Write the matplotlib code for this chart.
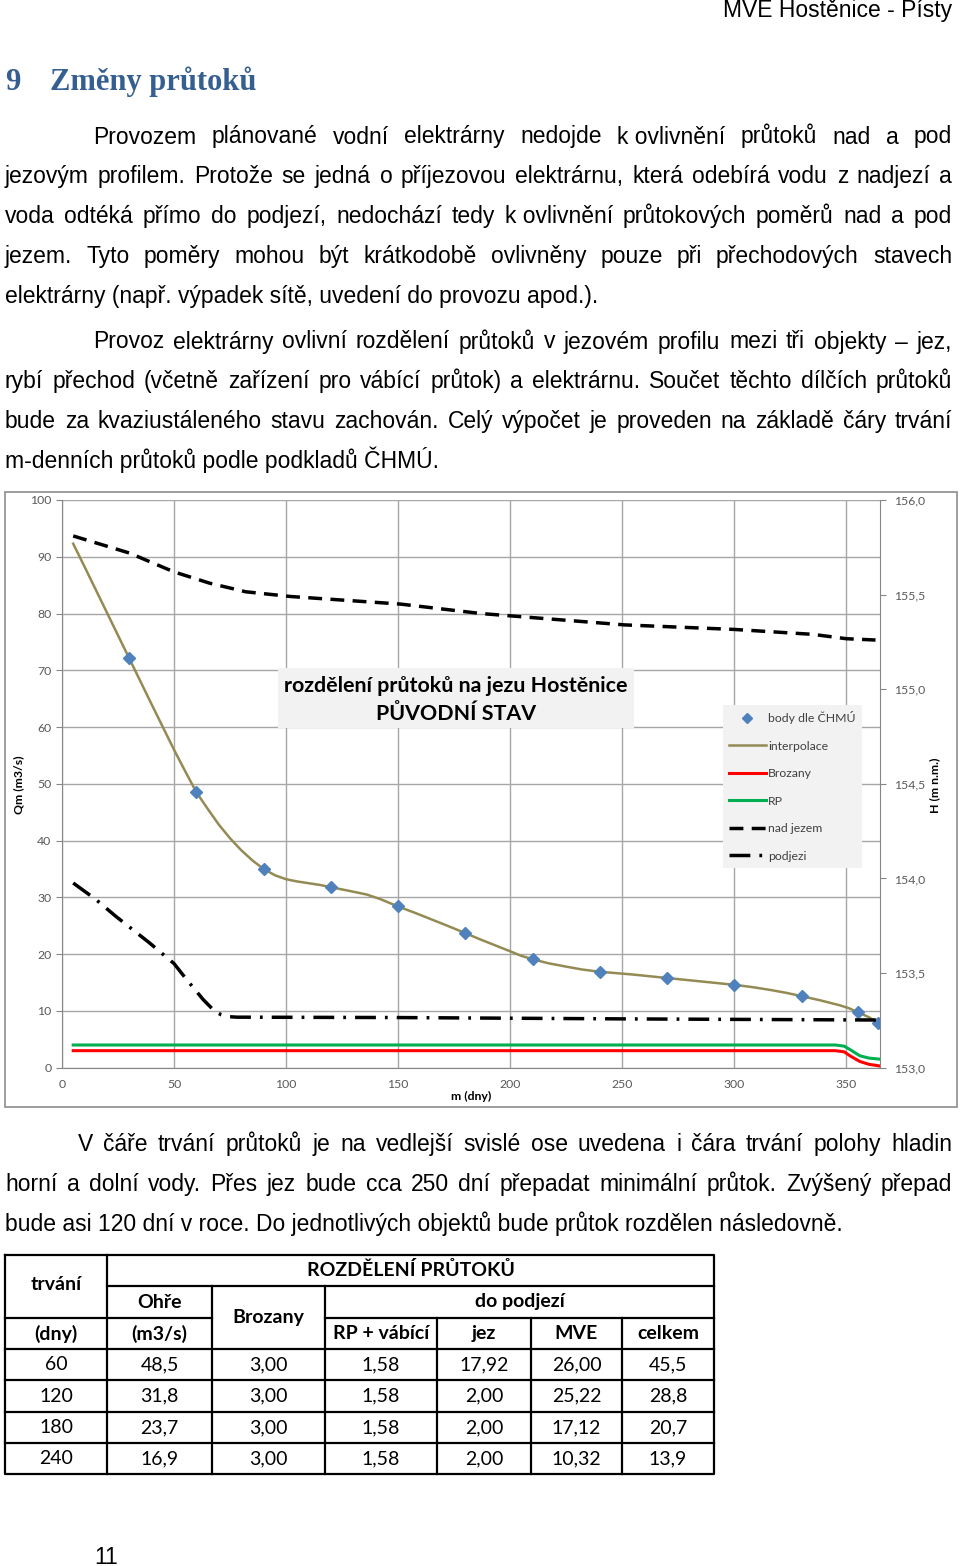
import matplotlib
matplotlib.use('Agg')
import matplotlib.pyplot as plt
from matplotlib.lines import Line2D
from matplotlib.patches import Rectangle
from matplotlib.ticker import FuncFormatter, MultipleLocator

# body dle CHMU (m-denni prutoky)
chmu_days = [30, 60, 90, 120, 150, 180, 210, 240, 270, 300, 330, 355, 364]
chmu_q = [72.1, 48.5, 35.0, 31.8, 28.4, 23.7, 19.1, 16.9, 15.8, 14.6, 12.6, 9.8, 7.9]

# interpolace
interp_days = [5, 10, 20, 30, 40, 50, 55, 60, 65, 70, 75, 80, 85, 90, 95, 100, 105, 110,
               115, 120, 130, 136, 142, 150, 158, 165, 172, 180, 186, 193, 200, 205, 210,
               217, 225, 232, 240, 255, 270, 285, 300, 308, 316, 323, 330, 338, 347, 351,
               355, 360, 364]
interp_q = [92.3, 88.3, 80.2, 72.1, 64.0, 56.0, 52.2, 48.5, 45.6, 42.8, 40.4, 38.3, 36.5,
            35.0, 33.9, 33.2, 32.8, 32.5, 32.2, 31.8, 31.0, 30.5, 29.7, 28.4, 27.2, 26.1,
            25.0, 23.7, 22.7, 21.6, 20.5, 19.7, 19.1, 18.4, 17.8, 17.3, 16.9, 16.4, 15.8,
            15.2, 14.6, 14.2, 13.7, 13.2, 12.6, 11.9, 11.0, 10.5, 9.8, 8.9, 7.9]

# Brozany and RP
min_days = [5, 345, 349, 352, 356, 360, 365]
brozany_q = [3.0, 3.0, 2.8, 2.0, 1.1, 0.6, 0.3]
rp_q = [4.0, 4.0, 3.8, 3.1, 2.1, 1.7, 1.5]

# water levels (right axis)
nad_days = [5, 30, 50, 66, 82, 102, 151, 187, 202, 251, 300, 335, 350, 363]
nad_h = [155.81, 155.72, 155.62, 155.56, 155.515, 155.49, 155.45, 155.40, 155.386,
         155.34, 155.316, 155.29, 155.267, 155.26]
pod_days = [5, 15, 24, 39, 50, 56, 63, 68, 71, 74, 78, 150, 250, 364]
pod_h = [153.976, 153.89, 153.80, 153.66, 153.55, 153.46, 153.36, 153.30, 153.28,
         153.27, 153.267, 153.265, 153.258, 153.252]

# table
tab_days = ['60', '120', '180', '240']
tab_ohre = ['48,5', '31,8', '23,7', '16,9']
tab_brozany = ['3,00', '3,00', '3,00', '3,00']
tab_rp = ['1,58', '1,58', '1,58', '1,58']
tab_jez = ['17,92', '2,00', '2,00', '2,00']
tab_mve = ['26,00', '25,22', '17,12', '10,32']
tab_celkem = ['45,5', '28,8', '20,7', '13,9']

par1 = ['Provozem plánované vodní elektrárny nedojde k\u00a0ovlivnění průtoků nad a pod',
        'jezovým profilem. Protože se jedná o příjezovou elektrárnu, která odebírá vodu z nadjezí a',
        'voda odtéká přímo do podjezí, nedochází tedy k\u00a0ovlivnění průtokových poměrů nad a pod',
        'jezem. Tyto poměry mohou být krátkodobě ovlivněny pouze při přechodových stavech',
        'elektrárny (např. výpadek sítě, uvedení do provozu apod.).']
par2 = ['Provoz elektrárny ovlivní rozdělení průtoků v jezovém profilu mezi tři objekty – jez,',
        'rybí přechod (včetně zařízení pro vábící průtok) a elektrárnu. Součet těchto dílčích průtoků',
        'bude za kvaziustáleného stavu zachován. Celý výpočet je proveden na základě čáry trvání',
        'm-denních průtoků podle podkladů ČHMÚ.']
par3 = ['V čáře trvání průtoků je na vedlejší svislé ose uvedena i čára trvání polohy hladin',
        'horní a dolní vody. Přes jez bude cca 250 dní přepadat minimální průtok. Zvýšený přepad',
        'bude asi 120 dní v roce. Do jednotlivých objektů bude průtok rozdělen následovně.']

W, H = 960, 1566
fig = plt.figure(figsize=(W / 100, H / 100), dpi=100)
chart_font = ['Lato', 'DejaVu Sans']
body_font = ['Liberation Sans', 'DejaVu Sans']

# ---- chart ----
x0, x1, ytop, ybot = 62, 880, 500, 1067.7
ax = fig.add_axes([x0 / W, 1 - ybot / H, (x1 - x0) / W, (ybot - ytop) / H], zorder=1)
ax.set_xlim(0, 365)
ax.set_ylim(0, 100)
ax.xaxis.set_major_locator(MultipleLocator(50))
ax.yaxis.set_major_locator(MultipleLocator(10))
ax.grid(True, color='#a6a6a6', lw=1)
ax.set_axisbelow(True)
for s in ['top', 'right']:
    ax.spines[s].set_visible(False)
for s in ['left', 'bottom']:
    ax.spines[s].set_color('#868686')
ax.tick_params(axis='y', colors='#868686', length=4, labelcolor='#595959', labelsize=8.8)
ax.tick_params(axis='x', length=0, labelcolor='#595959', labelsize=8.8, pad=8)
for lab in ax.get_xticklabels() + ax.get_yticklabels():
    lab.set_family(chart_font)

ax.plot(interp_days, interp_q, color='#948A54', lw=1.8, zorder=3)
ax.plot(chmu_days, chmu_q, 'D', color='#4F81BD', ms=6.5, zorder=4)
ax.plot(min_days, brozany_q, color='#FF0000', lw=2.2, zorder=3)
ax.plot(min_days, rp_q, color='#00B050', lw=2.2, zorder=3)

ax2 = ax.twinx()
ax2.set_zorder(2)
ax2.set_ylim(153, 156)
ax2.yaxis.set_major_locator(MultipleLocator(0.5))
ax2.yaxis.set_major_formatter(FuncFormatter(lambda v, p: f'{v:.1f}'.replace('.', ',')))
for s in ['top', 'left', 'bottom']:
    ax2.spines[s].set_visible(False)
ax2.spines['right'].set_color('#868686')
ax2.tick_params(axis='y', colors='#868686', length=4, labelcolor='#595959', labelsize=8.8, pad=6)
for lab in ax2.get_yticklabels():
    lab.set_family(chart_font)
ax2.plot(nad_days, nad_h, color='black', lw=2.5, ls=(0, (4, 2.4)))
ax2.plot(pod_days, pod_h, color='black', lw=2.5, ls=(0, (6, 2.6, 0.8, 2.6)))

ax.set_ylabel('Qm (m3/s)', fontsize=8.8, fontweight='bold', family=chart_font)
ax.yaxis.set_label_coords((24 - x0) / (x1 - x0), 0.498)
ax2.set_ylabel('H (m n.m.)', fontsize=8.8, fontweight='bold', family=chart_font)
ax2.yaxis.set_label_coords((929 - x0) / (x1 - x0), 0.498)
ax.set_xlabel('m (dny)', fontsize=8.8, fontweight='bold', family=chart_font)
ax.xaxis.set_label_coords((471 - x0) / (x1 - x0), -(1091 - ybot) / (ybot - ytop))

handles = [
    Line2D([], [], ls='none', marker='D', color='#4F81BD', ms=5),
    Line2D([], [], color='#948A54', lw=1.8),
    Line2D([], [], color='#FF0000', lw=2.2),
    Line2D([], [], color='#00B050', lw=2.2),
    Line2D([], [], color='black', lw=2.5, ls=(0, (4, 2.4))),
    Line2D([], [], color='black', lw=2.5, ls=(0, (6, 2.6, 0.8, 2.6))),
]
labels = ['body dle ČHMÚ', 'interpolace', 'Brozany', 'RP', 'nad jezem', 'podjezi']
leg = ax2.legend(handles, labels, loc='upper left',
                 bbox_to_anchor=(723 / W, 1 - 705 / H), bbox_transform=fig.transFigure,
                 prop={'family': chart_font, 'size': 8.8}, frameon=True, fancybox=False,
                 facecolor='#f2f2f2', edgecolor='none', framealpha=1,
                 labelspacing=1.35, handlelength=3.0, handletextpad=0.2, borderpad=0.5,
                 borderaxespad=0)
for t in leg.get_texts():
    t.set_color('#404040')

# ---- page overlay ----
pg = fig.add_axes([0, 0, 1, 1], zorder=5)
pg.set_xlim(0, W)
pg.set_ylim(H, 0)
pg.axis('off')
pg.patch.set_alpha(0)
renderer = fig.canvas.get_renderer()

pg.add_patch(Rectangle((5, 492), 952, 615, fill=False, ec='#8c8c8c', lw=1.2))
pg.add_patch(Rectangle((278, 668), 356, 60, fc='#f2f2f2', ec='none'))
pg.text(456, 686, 'rozdělení průtoků na jezu Hostěnice', ha='center', va='center',
        fontsize=15.4, fontweight='bold', family=chart_font, color='black')
pg.text(456, 714, 'PŮVODNÍ STAV', ha='center', va='center',
        fontsize=15.4, fontweight='bold', family=chart_font, color='black')

body_kw = dict(fontsize=16.5, family=body_font, color='black')


def put_line(text, xa, xb, y, justify=True):
    if not justify:
        pg.text(xa, y, text, ha='left', va='baseline', **body_kw)
        return
    tokens = text.split(' ')
    widths = []
    for t in tokens:
        tt = pg.text(0, 0, t, **body_kw)
        widths.append(tt.get_window_extent(renderer).width)
        tt.remove()
    gap = (xb - xa - sum(widths)) / (len(tokens) - 1)
    x = xa
    for t, w in zip(tokens, widths):
        pg.text(x, y, t, ha='left', va='baseline', **body_kw)
        x += w + gap


def put_par(lines, indent, y0, step=39.8):
    for i, line in enumerate(lines):
        xa = indent if i == 0 else 5
        put_line(line, xa, 952, y0 + i * step, justify=(i < len(lines) - 1))


put_par(par1, 93, 143.5)
put_par(par2, 93, 348.5)
put_par(par3, 78, 1151)

pg.text(952, 17, 'MVE Hostěnice - Písty', ha='right', va='baseline', fontsize=16.5,
        family=body_font, color='black')
pg.text(5, 90, '9', ha='left', va='baseline', fontsize=22, fontweight='bold',
        family=['Liberation Serif', 'DejaVu Serif'], color='#365F91')
pg.text(50, 90, 'Změny průtoků', ha='left', va='baseline', fontsize=22, fontweight='bold',
        family=['Liberation Serif', 'DejaVu Serif'], color='#365F91')
pg.text(94, 1564, '11', ha='left', va='baseline', fontsize=16.5, family=body_font, color='black')

# ---- table ----
cx = [5, 107, 212, 325, 437, 531, 622, 714]
ry = [1255, 1286, 1318, 1349, 1380, 1412, 1443, 1474]
tl = dict(color='black', lw=1.6)
pg.plot([cx[0], cx[-1], cx[-1], cx[0], cx[0]], [ry[0], ry[0], ry[-1], ry[-1], ry[0]], **tl)
pg.plot([cx[1], cx[-1]], [ry[1], ry[1]], **tl)
pg.plot([cx[0], cx[2]], [ry[2], ry[2]], **tl)
pg.plot([cx[3], cx[-1]], [ry[2], ry[2]], **tl)
for r in ry[3:-1]:
    pg.plot([cx[0], cx[-1]], [r, r], **tl)
pg.plot([cx[1], cx[1]], [ry[0], ry[-1]], **tl)
pg.plot([cx[2], cx[2]], [ry[1], ry[-1]], **tl)
pg.plot([cx[3], cx[3]], [ry[1], ry[-1]], **tl)
for c in cx[4:-1]:
    pg.plot([c, c], [ry[2], ry[-1]], **tl)

hk = dict(ha='center', va='center', fontsize=14, fontweight='bold', family=chart_font)
dk = dict(ha='center', va='center', fontsize=14, family=chart_font)


def mid(a, b):
    return (a + b) / 2


pg.text(mid(cx[0], cx[1]), 1285, 'trvání', **hk)
pg.text(mid(cx[0], cx[1]), mid(ry[2], ry[3]), '(dny)', **hk)
pg.text(mid(cx[1], cx[-1]), mid(ry[0], ry[1]), 'ROZDĚLENÍ PRŮTOKŮ', **hk)
pg.text(mid(cx[1], cx[2]), mid(ry[1], ry[2]), 'Ohře', **hk)
pg.text(mid(cx[1], cx[2]), mid(ry[2], ry[3]), '(m3/s)', **hk)
pg.text(mid(cx[2], cx[3]), mid(ry[1], ry[3]), 'Brozany', **hk)
pg.text(mid(cx[3], cx[-1]), mid(ry[1], ry[2]), 'do podjezí', **hk)
for i, h in enumerate(['RP + vábící', 'jez', 'MVE', 'celkem']):
    pg.text(mid(cx[3 + i], cx[4 + i]), mid(ry[2], ry[3]), h, **hk)

cols = [tab_days, tab_ohre, tab_brozany, tab_rp, tab_jez, tab_mve, tab_celkem]
for j, col in enumerate(cols):
    for i, v in enumerate(col):
        pg.text(mid(cx[j], cx[j + 1]), mid(ry[3 + i], ry[4 + i]), v, **dk)

fig.savefig('out.png', dpi=100)
